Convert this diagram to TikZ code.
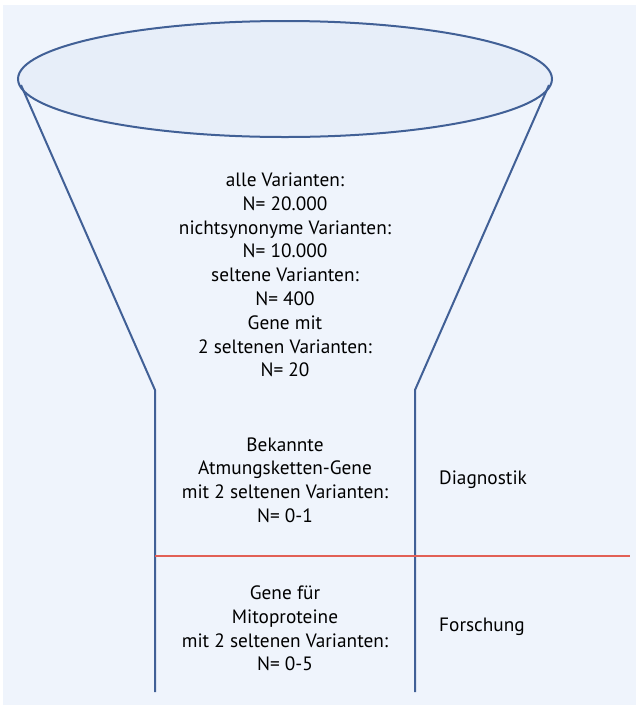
\documentclass[tikz,border=0pt]{standalone}
\usepackage{fontspec}
\setmainfont{PT Sans}
\usetikzlibrary{shapes.geometric, positioning}
\definecolor{funnelblue}{RGB}{65,96,150}
\definecolor{ground}{RGB}{239,244,252}
\definecolor{topfill}{RGB}{231,238,249}
\definecolor{cutred}{RGB}{226,96,86}

\begin{document}
\begin{tikzpicture}[x=1pt, y=-1pt]
        \tikzstyle{funnel} = [draw=funnelblue, line width=2pt, line join=round]
        \tikzstyle{topblob} = [ellipse, minimum width = 534pt, minimum height = 116pt, draw=funnelblue, line width=2pt, fill=topfill]
        \tikzstyle{stage} = [align=center, font=\fontsize{19.3}{23.8}\selectfont, inner sep=0pt]
        \tikzstyle{side} = [font=\fontsize{19.3}{23.8}\selectfont, inner sep=0pt]
        \tikzstyle{cut} = [draw=cutred, line width=1.2pt]

        \useasboundingbox (0,0) rectangle (636,705);
        \fill[ground] (3,5) rectangle (636,705);

        \node (top) [topblob] at (285,79) {};
        \coordinate (lTop) at (21,85);
        \coordinate (rTop) at (549,85);
        \coordinate (lNeck) at (155,390);
        \coordinate (rNeck) at (415,390);
        \coordinate (lEnd) at (155,692);
        \coordinate (rEnd) at (415,692);
        \coordinate (cutL) at (155,556);
        \coordinate (cutR) at (630,556);

        \draw[funnel] (lTop) -- (lNeck) -- (lEnd);
        \draw[funnel] (rTop) -- (rNeck) -- (rEnd);
        \draw[cut] (cutL) -- (cutR);

        \node (all) [stage] at (285,275) {alle Varianten:\\N= 20.000\\nichtsynonyme Varianten:\\N= 10.000\\seltene Varianten:\\N= 400\\Gene mit\\2 seltenen Varianten:\\N= 20};
        \node (known) [stage] at (285,480) {Bekannte\\Atmungsketten-Gene\\mit 2 seltenen Varianten:\\N= 0-1};
        \node (mito) [stage] at (285,628.5) {Gene für\\Mitoproteine\\mit 2 seltenen Varianten:\\N= 0-5};
        \node (diag) [side, anchor=west] at (439,480) {Diagnostik};
        \node (research) [side, anchor=west] at (439,627) {Forschung};

    \end{tikzpicture}
\end{document}
